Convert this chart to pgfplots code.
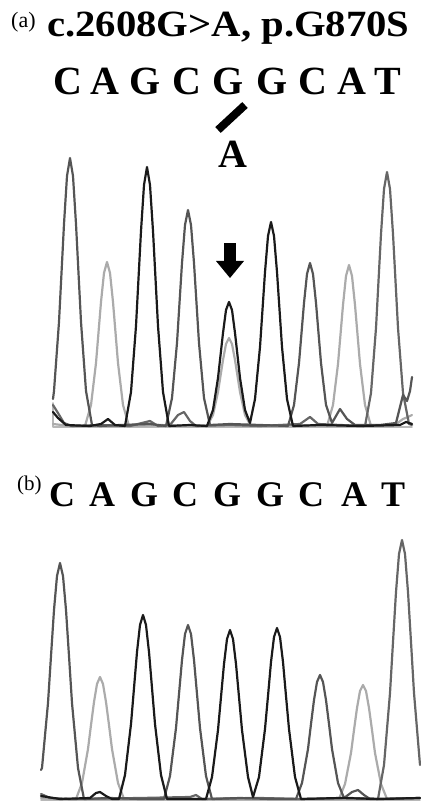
\documentclass[border=0pt]{standalone}
\usepackage{fontspec}
\setmainfont{Liberation Serif}
\usepackage{graphicx}
\usepackage{pgfplots}
\pgfplotsset{compat=1.18}
\definecolor{cC}{HTML}{555555}
\definecolor{cA}{HTML}{ABABAB}
\definecolor{cG}{HTML}{1A1A1A}
\definecolor{cT}{HTML}{666666}
\definecolor{cB}{HTML}{B8B8B8}
\pgfplotsset{trace/.style={line width=2.2pt, line join=round, line cap=round, mark=none}}
\begin{document}
\begin{tikzpicture}
\path[use as bounding box] (0pt,0pt) rectangle (420pt,802pt);
% ---------- texts panel (a)
\node[anchor=base west, inner sep=0pt] at (11pt,774pt) {\fontsize{22}{22}\selectfont (a)};
\node[anchor=base west, inner sep=0pt] at (47pt,765pt) {\scalebox{1.1}[1]{\fontsize{37}{37}\selectfont\bfseries c.2608G>A, p.G870S}};
\foreach \xx/\ll in {68/C,105/A,145/G,187/C,228/G,272/G,313/C,352/A,388/T}{
  \node[anchor=base, inner sep=0pt] at (\xx pt,707pt) {\fontsize{40}{40}\selectfont\bfseries \ll};
}
\draw[line width=8pt] (245pt,697pt) -- (218pt,672pt);
\node[anchor=base, inner sep=0pt] at (233pt,634pt) {\fontsize{40}{40}\selectfont\bfseries A};
\fill (224pt,559pt) rectangle (236pt,540pt);
\fill (216pt,541pt) -- (244pt,541pt) -- (230pt,524pt) -- cycle;
% ---------- texts panel (b)
\node[anchor=base west, inner sep=0pt] at (17pt,311pt) {\fontsize{21}{21}\selectfont (b)};
\foreach \xx/\ll in {62/C,102/A,144/G,185/C,227/G,270/G,311/C,354/A,393/T}{
  \node[anchor=base, inner sep=0pt] at (\xx pt,295pt) {\fontsize{36}{36}\selectfont\bfseries \ll};
}
% ---------- trace (a)
\begin{axis}[at={(0pt,375pt)}, anchor=south west, x=1pt, y=1pt,
  xmin=0, xmax=420, ymin=0, ymax=280, hide axis, clip=false]
\addplot[trace, cB, line width=1.8pt] coordinates {(53,24)(53,0)(412,0)};
\addplot[trace, cA] coordinates {(53,3)(70,1)(85,1)(91,22)(96,64)(101,125)(104,154)(107,165)(110,154)(113,125)(118,64)(123,22)(129,1)(160,2)(190,1)(207,1)(213,12)(218,35)(223,67)(226,83)(229,89)(232,83)(235,67)(240,35)(245,12)(251,1)(290,2)(327,1)(333,22)(338,63)(343,122)(346,151)(349,162)(352,151)(355,122)(360,63)(365,22)(371,1)(395,2)(403,8)(408,10)(412,12)};
\addplot[trace, cT] coordinates {(53,22)(58,14)(64,4)(72,1)(100,2)(130,1)(150,6)(158,1)(170,2)(178,12)(184,15)(190,6)(196,1)(230,2)(260,1)(300,3)(310,10)(318,3)(340,2)(365,1)(371,34)(376,99)(381,193)(384,238)(387,255)(390,238)(393,193)(398,99)(403,34)(409,3)(412,2)};
\addplot[trace, cC] coordinates {(53,28)(54,36)(59,105)(64,203)(67,251)(70,269)(73,251)(76,203)(81,105)(86,36)(92,2)(100,1)(120,2)(150,3)(166,1)(172,29)(177,84)(182,164)(185,202)(188,217)(191,202)(194,164)(199,84)(204,29)(210,2)(230,3)(260,2)(288,1)(294,22)(299,64)(304,124)(307,153)(310,164)(313,153)(316,124)(321,64)(326,22)(332,4)(340,18)(347,8)(355,2)(380,2)(396,4)(403,32)(407,26)(410,36)(412,50)};
\addplot[trace, cG] coordinates {(53,15)(58,9)(66,2)(90,1)(101,3)(108,8)(115,2)(125,1)(131,35)(136,101)(141,196)(144,242)(147,260)(150,242)(153,196)(158,101)(163,35)(169,1)(190,2)(207,1)(213,17)(218,49)(223,94)(226,117)(229,125)(232,117)(235,94)(240,49)(245,17)(250,4)(255,28)(260,80)(265,155)(268,191)(271,205)(274,191)(277,155)(282,80)(287,28)(293,1)(320,2)(360,1)(400,2)(406,5)(412,3)};
\end{axis}
% ---------- trace (b)
\begin{axis}[at={(0pt,2pt)}, anchor=south west, x=1pt, y=1pt,
  xmin=0, xmax=420, ymin=0, ymax=280, hide axis, clip=false]
\addplot[trace, cB, line width=1.8pt] coordinates {(41,0)(420,0)};
\addplot[trace, cA] coordinates {(41,2)(60,1)(76,1)(82,17)(88,51)(91,75)(94,98)(97,116)(100,123)(103,116)(106,98)(109,75)(112,51)(118,17)(124,1)(160,2)(200,1)(250,2)(300,1)(339,1)(345,16)(351,47)(354,70)(357,92)(360,109)(363,115)(366,109)(369,92)(372,70)(375,47)(381,16)(387,1)(420,2)};
\addplot[trace, cT] coordinates {(41,6)(50,2)(70,1)(140,2)(190,3)(196,5)(202,1)(260,2)(300,1)(350,2)(378,1)(384,35)(390,107)(393,158)(396,208)(399,246)(402,260)(405,246)(408,208)(411,158)(414,107)(420,35)};
\addplot[trace, cC] coordinates {(41,30)(42,32)(48,97)(51,144)(54,190)(57,224)(60,237)(63,224)(66,190)(69,144)(72,97)(78,32)(84,1)(110,2)(140,1)(164,1)(170,24)(176,72)(179,106)(182,140)(185,166)(188,175)(191,166)(194,140)(197,106)(200,72)(206,24)(212,1)(240,2)(270,1)(296,1)(302,17)(308,51)(311,76)(314,100)(317,118)(320,125)(323,118)(326,100)(329,76)(332,51)(338,17)(344,2)(352,8)(358,10)(364,5)(370,1)(420,2)};
\addplot[trace, cG] coordinates {(41,4)(60,1)(90,2)(96,7)(100,8)(106,4)(112,1)(119,1)(125,25)(131,76)(134,112)(137,148)(140,175)(143,185)(146,175)(149,148)(152,112)(155,76)(161,25)(167,1)(206,1)(212,23)(218,70)(221,103)(224,136)(227,161)(230,170)(233,161)(236,136)(239,103)(242,70)(248,23)(253,3)(259,23)(265,71)(268,104)(271,138)(274,163)(277,172)(280,163)(283,138)(286,104)(289,71)(295,23)(301,1)(340,2)(380,1)(420,2)};
\end{axis}
\end{tikzpicture}
\end{document}
